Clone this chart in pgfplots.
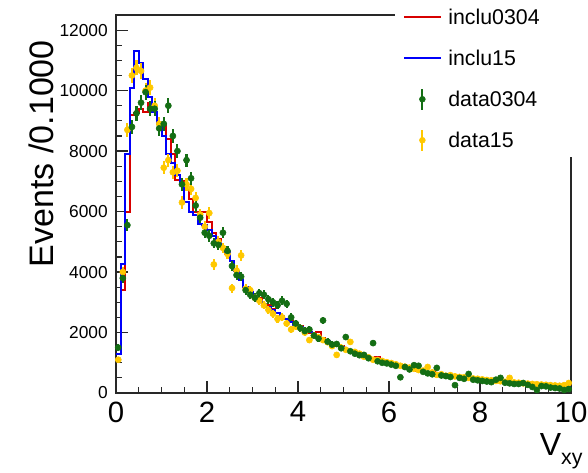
\documentclass[border=0pt]{standalone}
\usepackage{fontspec}
\setmainfont{Liberation Sans}
\usepackage{pgfplots}
\usepackage{pgfplotstable}
\pgfplotsset{compat=1.18}

\definecolor{hred}{RGB}{215,0,0}
\definecolor{hblue}{RGB}{0,0,250}
\definecolor{dgreen}{RGB}{20,110,20}
\definecolor{dyellow}{RGB}{255,200,0}
\definecolor{framecol}{RGB}{40,40,40}

% bin low edge, bin centre, MC histograms, data with errors
\pgfplotstableread{
lo c red blue grn eg yel ey
0.0 0.05 1300 1300 1500 105 1100 90
0.1 0.15 3400 4250 3800 150 4000 170
0.2 0.25 6000 7900 5550 190 8700 235
0.3 0.35 9200 10100 8800 235 10500 250
0.4 0.45 9250 11300 9250 250 10750 250
0.5 0.55 9400 10900 9600 250 10650 250
0.6 0.65 9300 10400 9950 250 10000 250
0.7 0.75 9600 9800 9400 250 10100 250
0.8 0.85 9300 9300 9400 250 9500 250
0.9 0.95 8900 8900 8750 235 8900 235
1.0 1.05 8900 8500 8900 235 7450 220
1.1 1.15 8400 7900 9500 250 7700 220
1.2 1.25 7900 7600 8500 235 7300 220
1.3 1.35 7050 7200 8000 235 7350 220
1.4 1.45 7000 6900 6900 205 6300 205
1.5 1.55 6700 6300 7700 220 6900 205
1.6 1.65 6400 6000 7100 220 6750 205
1.7 1.75 6000 5900 6200 205 6450 205
1.8 1.85 6000 5600 5800 190 5900 190
1.9 1.95 5980 5550 5300 190 5500 190
2.0 2.05 5650 5400 5200 190 5950 190
2.1 2.15 5300 5200 4950 170 4250 170
2.2 2.25 5100 4950 4900 170 5000 190
2.3 2.35 4800 4800 5300 190 4800 170
2.4 2.45 4600 4650 4700 170 4600 170
2.5 2.55 4350 4350 4200 170 3470 150
2.6 2.65 4050 4050 3900 150 4050 170
2.7 2.75 3750 3750 3850 150 4550 170
2.8 2.85 3500 3500 3400 150 3450 150
2.9 2.95 3350 3330 3250 150 3400 150
3.0 3.05 3200 3180 3150 150 3150 150
3.1 3.15 3150 3050 3300 150 3050 150
3.2 3.25 2950 2950 3250 150 2900 135
3.3 3.35 2900 2830 3100 150 2750 135
3.4 3.45 2780 2750 3000 150 2620 135
3.5 3.55 2650 2640 2900 135 2450 120
3.6 3.65 2560 2540 3050 150 2500 135
3.7 3.75 2450 2460 2950 135 2300 120
3.8 3.85 2380 2360 2500 135 2100 120
3.9 3.95 2300 2260 2300 120 2200 120
4.0 4.05 2200 2170 2150 120 2150 120
4.1 4.15 2120 2080 2050 120 2000 120
4.2 4.25 2000 2030 2100 120 1750 105
4.3 4.35 1960 1900 1900 105 1900 105
4.4 4.45 2020 1850 1800 105 1850 105
4.5 4.55 1810 1750 2400 120 1750 105
4.6 4.65 1700 1730 1700 105 1680 105
4.7 4.75 1670 1640 1600 105 1550 105
4.8 4.85 1560 1590 1620 105 1260 90
4.9 4.95 1540 1510 1480 90 1500 105
5.0 5.05 1450 1470 1850 105 1430 90
5.1 5.15 1420 1390 1380 90 1690 105
5.2 5.25 1330 1350 1300 90 1360 90
5.3 5.35 1310 1280 1250 90 1300 90
5.4 5.45 1220 1240 1260 90 1200 90
5.5 5.55 1200 1170 1150 90 1180 90
5.6 5.65 1160 1120 1650 105 1100 90
5.7 5.75 1180 1080 1050 90 1090 90
5.8 5.85 1050 1030 1000 90 1060 90
5.9 5.95 990 1000 980 75 1020 90
6.0 6.05 970 950 940 75 990 75
6.1 6.15 930 920 900 75 950 75
6.2 6.25 870 880 520 62 900 75
6.3 6.35 850 840 860 75 870 75
6.4 6.45 800 815 780 75 840 75
6.5 6.55 790 770 920 75 800 75
6.6 6.65 740 750 900 75 760 75
6.7 6.75 720 710 700 75 740 75
6.8 6.85 680 690 650 62 860 75
6.9 6.95 700 650 620 62 680 62
7.0 7.05 640 640 830 75 600 62
7.1 7.15 600 610 580 62 620 62
7.2 7.25 590 575 560 62 570 62
7.3 7.35 560 560 530 62 590 62
7.4 7.45 540 545 260 38 550 62
7.5 7.55 530 520 500 62 530 62
7.6 7.65 490 505 470 50 520 62
7.7 7.75 500 480 630 62 500 62
7.8 7.85 470 460 440 50 480 50
7.9 7.95 440 450 420 50 470 50
8.0 8.05 430 430 400 50 450 50
8.1 8.15 420 410 380 50 430 50
8.2 8.25 400 400 360 50 420 50
8.3 8.35 390 385 440 50 400 50
8.4 8.45 370 370 500 62 390 50
8.5 8.55 360 355 340 50 370 50
8.6 8.65 340 345 320 50 500 62
8.7 8.75 335 330 300 50 350 50
8.8 8.85 320 320 300 50 340 50
8.9 8.95 310 305 330 50 320 50
9.0 9.05 300 295 270 38 310 50
9.1 9.15 290 285 200 38 300 50
9.2 9.25 270 275 100 38 290 38
9.3 9.35 265 260 230 38 280 38
9.4 9.45 250 255 220 38 270 38
9.5 9.55 245 245 180 38 260 38
9.6 9.65 240 235 165 38 250 38
9.7 9.75 230 225 150 38 240 38
9.8 9.85 220 215 100 38 260 38
9.9 9.95 210 210 130 38 330 50
}\vxy

\begin{document}
\begin{tikzpicture}
\begin{axis}[
    scale only axis,
    width=341.25pt, height=283.5pt,
    xmin=0, xmax=10, ymin=0, ymax=12500,
    axis line style={framecol, line width=0.9pt},
    clip=false,
    xtick pos=bottom, ytick pos=left,
    xtick={0,2,...,10},
    ytick={0,2000,...,12000},
    minor x tick num=3,
    minor y tick num=3,
    tick align=inside,
    major tick length=9pt,
    minor tick length=4.5pt,
    every tick/.append style={framecol, line width=0.9pt},
    scaled y ticks=false,
    xticklabel style={font=\fontsize{22}{26}\selectfont, inner sep=0pt, yshift=-6.4pt,
        /pgf/number format/assume math mode=true},
    yticklabel style={font=\fontsize{13}{15}\selectfont, inner sep=0pt, xshift=-6pt,
        /pgf/number format/assume math mode=true, /pgf/number format/1000 sep={}},
    xlabel={V\raisebox{-0.28em}{\fontsize{16}{16}\selectfont xy}},
    xlabel style={at={(rel axis cs:1.026,-0.106)}, anchor=north east, inner sep=0pt,
        font=\fontsize{24}{28}\selectfont},
    ylabel={Events /0.1000},
    ylabel style={at={(rel axis cs:-0.163,0.934)}, anchor=east, rotate=0, inner sep=0pt,
        font=\fontsize{25.5}{30}\selectfont},
    legend style={at={(rel axis cs:0.631,1.016)}, anchor=north west, draw=none, fill=none,
        inner sep=0pt, row sep=18.75pt, column sep=0pt,
        font=\fontsize{16}{19}\selectfont,
        nodes={inner sep=0pt, text height=11.5pt, text depth=0.5pt}},
    legend cell align=left,
]
\addplot[hred, line width=1.5pt, const plot mark left, forget plot] table[x=lo, y=red] {\vxy};
\addplot[hred, line width=1.5pt, forget plot] coordinates {(9.9,210) (10,210)};
\addplot[hblue, line width=1.5pt, const plot mark left, forget plot] table[x=lo, y=blue] {\vxy};
\addplot[hblue, line width=1.5pt, forget plot] coordinates {(9.9,210) (10,210)};
\addplot[dyellow, only marks, mark=*, mark size=2.3pt, forget plot,
    error bars/.cd, y dir=both, y explicit,
    error bar style={line width=1.6pt}, error mark=none]
    table[x=c, y=yel, y error=ey] {\vxy};
\addplot[dgreen, only marks, mark=*, mark size=2.3pt, forget plot,
    error bars/.cd, y dir=both, y explicit,
    error bar style={line width=1.6pt}, error mark=none]
    table[x=c, y=grn, y error=eg] {\vxy};

% the legend box hides this corner of the frame
\fill[white] (axis cs:6.13,7800) rectangle (rel axis cs:1.06,1.06);

\addlegendimage{legend image code/.code={\draw[hred,line width=1.5pt] (0pt,0pt)--(27.75pt,0pt); \path[draw=none,fill=none] (0pt,-3pt) rectangle (33pt,3pt);}}
\addlegendimage{legend image code/.code={\draw[hblue,line width=1.5pt] (0pt,0pt)--(27.75pt,0pt); \path[draw=none,fill=none] (0pt,-3pt) rectangle (33pt,3pt);}}
\addlegendimage{legend image code/.code={\draw[dgreen,line width=1.5pt,overlay] (13.5pt,-8pt)--(13.5pt,8pt); \fill[dgreen,overlay] (13.5pt,0pt) circle (2.2pt); \path[draw=none,fill=none] (0pt,-3pt) rectangle (33pt,3pt);}}
\addlegendimage{legend image code/.code={\draw[dyellow,line width=1.5pt,overlay] (13.5pt,-8pt)--(13.5pt,8pt); \fill[dyellow,overlay] (13.5pt,0pt) circle (2.2pt); \path[draw=none,fill=none] (0pt,-3pt) rectangle (33pt,3pt);}}
\legend{inclu0304, inclu15, data0304, data15}
\end{axis}
\pgfresetboundingbox
\path[use as bounding box] (-87pt,-59.25pt) rectangle (354pt,294.75pt);
\end{tikzpicture}
\end{document}
